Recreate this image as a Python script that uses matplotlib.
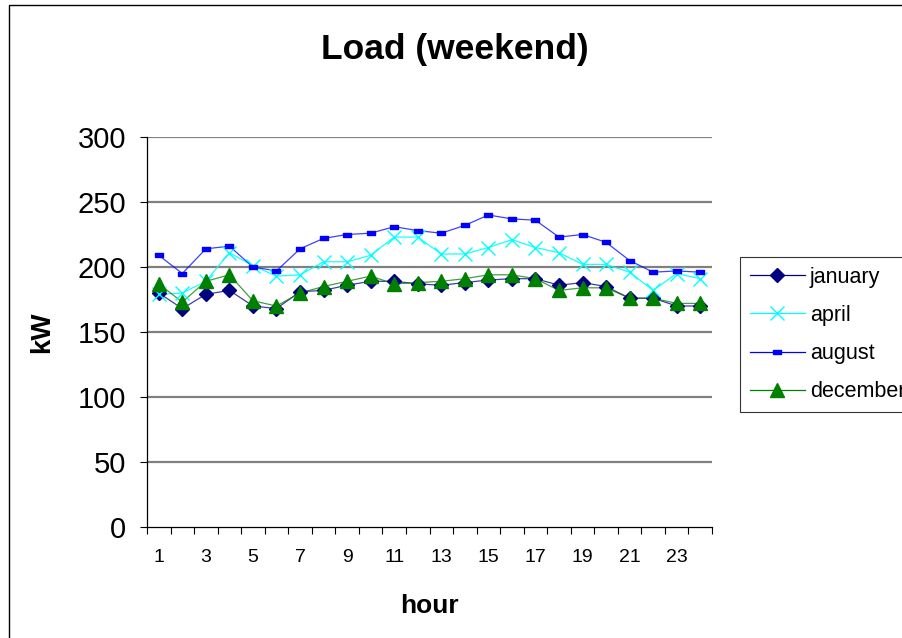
import numpy as np
import matplotlib
matplotlib.use("Agg")
import matplotlib.pyplot as plt
from matplotlib.patches import Rectangle
from matplotlib.lines import Line2D

plt.rcParams["font.family"] = ["Liberation Sans", "DejaVu Sans"]

# ── data ─────────────────────────────────────────────────────────────────────
hours = list(range(1, 25))
january = [180, 168, 179, 182, 170, 168, 181, 182, 186, 189, 189, 187,
           186, 188, 190, 191, 191, 186, 188, 185, 176, 176, 170, 170]
april = [179, 180, 189, 211, 201, 193, 194, 204, 204, 209, 223, 223,
         210, 210, 215, 221, 215, 211, 202, 202, 196, 182, 195, 191]
august = [209, 195, 214, 216, 200, 197, 214, 222, 225, 226, 231, 228,
          226, 232, 240, 237, 236, 223, 225, 219, 205, 196, 197, 196]
december = [187, 173, 189, 194, 174, 170, 180, 185, 189, 193, 187, 188,
            189, 191, 194, 194, 191, 182, 184, 184, 176, 176, 172, 172]

series = [
    ("january", january, "#000080", "D", 7.5),
    ("april", april, "#00FFFF", "x", 10),
    ("august", august, "#0000FF", "rect", 6),
    ("december", december, "#008000", "^", 10),
]

# wide flat rectangle marker, the way the spreadsheet draws it
rect_marker = [(-1, -0.55), (1, -0.55), (1, 0.55), (-1, 0.55), (-1, -0.55)]

W, H = 902, 638
fig = plt.figure(figsize=(W / 100, H / 100), dpi=100, facecolor="white")

# outer chart frame (only left/top edges fall inside the image)
fig.patches.append(Rectangle((9 / W, -0.1), 1.2, 1 - 5 / H + 0.1,
                             transform=fig.transFigure, fill=False,
                             edgecolor="black", lw=1.0))

ax = fig.add_axes([147 / W, 1 - 527 / H, 565 / W, 390 / H])

for name, vals, col, mk, ms in series:
    marker = rect_marker if mk == "rect" else mk
    ax.plot(hours, vals, color=col, lw=0.9, alpha=0.75 if name != "april" else 0.9,
            zorder=3)
    ax.plot(hours, vals, linestyle="none", marker=marker, ms=ms, color=col,
            mew=1.0, zorder=4)

ax.set_xlim(0.5, 24.5)
ax.set_ylim(0, 300)
ax.set_yticks(range(0, 301, 50))
ax.set_yticklabels([str(v) for v in range(0, 301, 50)], fontsize=21)
for v in range(50, 301, 50):
    ax.axhline(v, color="#808080", lw=1.6, zorder=1)

# category axis: ticks on boundaries, labels on odd hours
ax.set_xticks(np.arange(0.5, 25, 1))
ax.set_xticklabels([])
odd = [h for h in hours if h % 2 == 1]
ax.set_xticks(odd, minor=True)
ax.set_xticklabels([str(h) for h in odd], minor=True, fontsize=14)
ax.tick_params(axis="x", which="major", direction="out", length=5, width=0.8)
ax.tick_params(axis="x", which="minor", length=0, pad=16)
ax.tick_params(axis="y", direction="out", length=5, width=0.8, pad=10)

for s in ("top", "right"):
    ax.spines[s].set_visible(False)
ax.spines["left"].set_linewidth(0.9)
ax.spines["bottom"].set_linewidth(0.9)

ax.set_xlabel("hour", fontsize=19, fontweight="bold")
ax.xaxis.set_label_coords(0.5, -0.172)
ax.set_ylabel("kW", fontsize=20, fontweight="bold")
ax.yaxis.set_label_coords(-0.163, 0.5)

fig.text(455 / W, 1 - 49 / H, "Load (weekend)", ha="center", va="center",
         fontsize=25.5, fontweight="bold")

# legend: line + marker per series (box runs past the right edge, as in the original)
handles = []
for name, vals, col, mk, ms in series:
    marker = rect_marker if mk == "rect" else mk
    handles.append(Line2D([], [], color=col, lw=0.9, marker=marker, ms=ms,
                          mew=1.0, label=name))
leg = fig.legend(handles=handles, loc="upper left",
                 bbox_to_anchor=(740 / W, 1 - 257 / H), borderaxespad=0,
                 fontsize=15.5, frameon=True, fancybox=False, edgecolor="black",
                 handlelength=2.55, handletextpad=0.25, labelspacing=0.8,
                 borderpad=0.45)
leg.get_frame().set_linewidth(0.8)

fig.savefig("out.png", dpi=100)
